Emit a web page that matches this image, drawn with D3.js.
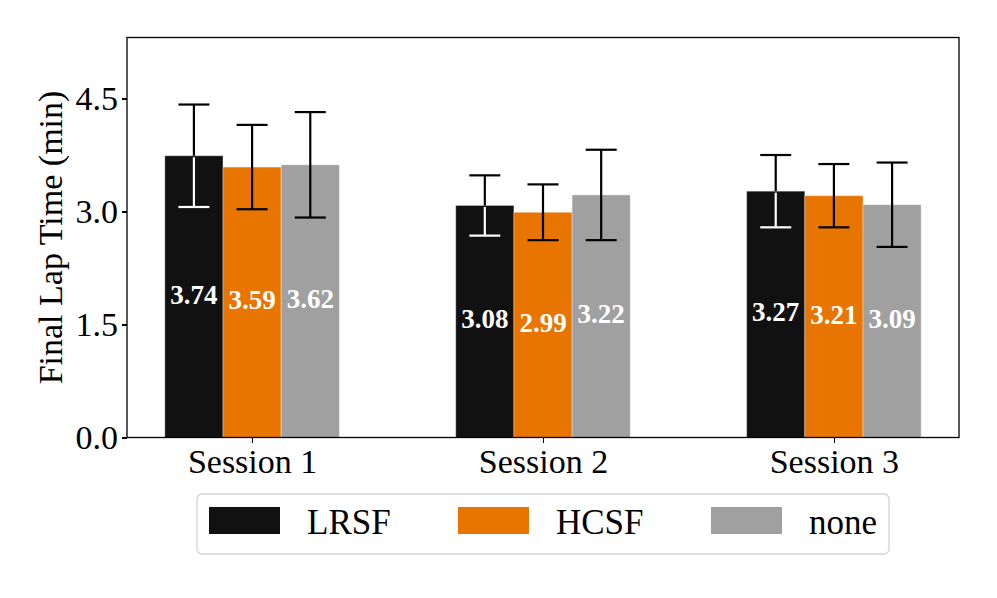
<!DOCTYPE html>
<meta charset="utf-8">
<head>
<style>
  body { margin: 0; background: #fff; }
  svg text { font-family: "Liberation Serif", "Times New Roman", serif; }
  .axis path, .axis line { stroke: #000; stroke-width: 1.3; shape-rendering: crispEdges; }
  .axis text { font-size: 34px; fill: #000; }
</style>
</head>
<body>
<script src="https://d3js.org/d3.v7.min.js"></script>
<script>
var sessions = ["Session 1", "Session 2", "Session 3"];
var conditions = ["LRSF", "HCSF", "none"];
var lrsf = [3.74, 3.08, 3.27];
var lrsfErr = [0.68, 0.40, 0.48];
var hcsf = [3.59, 2.99, 3.21];
var hcsfErr = [0.56, 0.37, 0.42];
var none = [3.62, 3.22, 3.09];
var noneErr = [0.70, 0.60, 0.56];
var yTicks = [0, 1.5, 3.0, 4.5];
var colors = ["#111111", "#e87500", "#a0a0a0"];

var w = 997, h = 598;
var pLeft = 127, pRight = 959, pTop = 37.5, pBottom = 437.5;
var barW = 0.2;

var series = [
  {name: conditions[0], values: lrsf, err: lrsfErr, color: colors[0], off: -barW},
  {name: conditions[1], values: hcsf, err: hcsfErr, color: colors[1], off: 0},
  {name: conditions[2], values: none, err: noneErr, color: colors[2], off: barW}
];

var x = d3.scaleLinear().domain([-0.43, 2.43]).range([pLeft, pRight]);
var y = d3.scaleLinear().domain([0, 5.31]).range([pBottom, pTop]);

var svg = d3.select("body").append("svg")
    .attr("width", w)
    .attr("height", h);

// bars
series.forEach(function(s) {
  svg.append("g").selectAll("rect")
    .data(s.values)
    .enter()
    .append("rect")
    .attr("x", function(d, i) { return x(i + s.off - barW / 2); })
    .attr("y", function(d) { return y(d); })
    .attr("width", x(barW) - x(0))
    .attr("height", function(d) { return y(0) - y(d); })
    .attr("fill", s.color)
    .attr("stroke", "#fff")
    .attr("stroke-opacity", 0.35)
    .attr("stroke-width", 1);
});

// error bars (white below bar top for the black bars)
var capHalf = 15.5;
series.forEach(function(s, si) {
  s.values.forEach(function(d, i) {
    var cx = x(i + s.off);
    var hi = d + s.err[i], lo = d - s.err[i];
    var g = svg.append("g").attr("stroke-width", 2.2).attr("fill", "none");
    if (si === 0) {
      g.append("line").attr("x1", cx).attr("x2", cx).attr("y1", y(hi)).attr("y2", y(d)).attr("stroke", "#000");
      g.append("line").attr("x1", cx - capHalf).attr("x2", cx + capHalf).attr("y1", y(hi)).attr("y2", y(hi)).attr("stroke", "#000");
      g.append("line").attr("x1", cx).attr("x2", cx).attr("y1", y(d) + 1.5).attr("y2", y(lo)).attr("stroke", "#fff");
      g.append("line").attr("x1", cx - capHalf).attr("x2", cx + capHalf).attr("y1", y(lo)).attr("y2", y(lo)).attr("stroke", "#fff");
    } else {
      g.append("line").attr("x1", cx).attr("x2", cx).attr("y1", y(hi)).attr("y2", y(lo)).attr("stroke", "#000");
      g.append("line").attr("x1", cx - capHalf).attr("x2", cx + capHalf).attr("y1", y(hi)).attr("y2", y(hi)).attr("stroke", "#000");
      g.append("line").attr("x1", cx - capHalf).attr("x2", cx + capHalf).attr("y1", y(lo)).attr("y2", y(lo)).attr("stroke", "#000");
    }
  });
});

// value labels
series.forEach(function(s) {
  svg.append("g").selectAll("text")
    .data(s.values)
    .enter()
    .append("text")
    .attr("x", function(d, i) { return x(i + s.off); })
    .attr("y", function(d) { return y(d / 2) - 2; })
    .attr("text-anchor", "middle")
    .attr("dominant-baseline", "central")
    .attr("font-size", "27px")
    .attr("font-weight", "bold")
    .attr("fill", "#fff")
    .text(function(d) { return d.toFixed(2); });
});

// frame
svg.append("rect")
  .attr("x", pLeft).attr("y", pTop)
  .attr("width", pRight - pLeft).attr("height", pBottom - pTop)
  .attr("fill", "none").attr("stroke", "#000").attr("stroke-width", 1.3);

// axes
var yAxis = d3.axisLeft(y).tickValues(yTicks).tickFormat(d3.format(".1f")).tickSize(5).tickPadding(4);
svg.append("g").attr("class", "axis").attr("transform", "translate(" + pLeft + ",0)").call(yAxis)
  .select(".domain").remove();

var xAxis = d3.axisBottom(x).tickValues([0, 1, 2]).tickFormat(function(d) { return sessions[d]; }).tickSize(5).tickPadding(6);
svg.append("g").attr("class", "axis").attr("transform", "translate(0," + pBottom + ")").call(xAxis)
  .select(".domain").remove();

// y title
svg.append("text")
  .attr("transform", "translate(62," + ((pTop + pBottom) / 2) + ") rotate(-90)")
  .attr("text-anchor", "middle")
  .attr("font-size", "34px")
  .text("Final Lap Time (min)");

// legend
var lg = svg.append("g");
lg.append("rect")
  .attr("x", 197).attr("y", 494).attr("width", 692).attr("height", 60)
  .attr("rx", 5).attr("fill", "#fff").attr("stroke", "#d4d4d4").attr("stroke-width", 1.3);
var legendX = [209, 458, 711];
series.forEach(function(s, i) {
  lg.append("rect")
    .attr("x", legendX[i]).attr("y", 507).attr("width", 71).attr("height", 27)
    .attr("fill", s.color);
  lg.append("text")
    .attr("x", legendX[i] + 98).attr("y", 534)
    .attr("font-size", "35px")
    .text(s.name);
});
</script>
</body>
